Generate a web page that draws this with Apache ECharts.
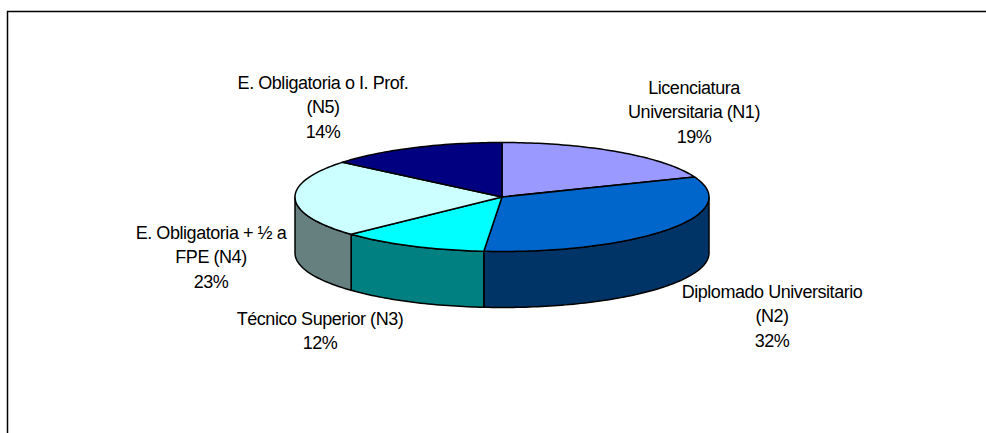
<!DOCTYPE html>
<html><head><meta charset="utf-8">
<style>html,body{margin:0;padding:0;background:#fff}#c{width:986px;height:433px}svg text{letter-spacing:-0.45px}</style>
<script src="https://cdn.jsdelivr.net/npm/echarts@6/dist/echarts.min.js"></script>
</head><body><div id="c"></div>
<script>
var categories = ['Licenciatura\nUniversitaria (N1)', 'Diplomado Universitario\n(N2)', 'Técnico Superior (N3)', 'E. Obligatoria + ½ a\nFPE (N4)', 'E. Obligatoria o I. Prof.\n(N5)'];
var values = [19, 32.4, 11.6, 23, 14];
var topColors = ['#9999FF', '#0066CC', '#00FFFF', '#CCFFFF', '#000080'];
var wallColors = ['#666699', '#003366', '#008080', '#668080', '#000040'];
var labelPos = [[694, 112], [772, 316], [320, 331], [211, 257], [323, 107]];

var CX = 502, CY = 197, RX = 207, RY = 54.5, DEPTH = 56;
var total = values.reduce(function (a, b) { return a + b; }, 0);
function pt(theta, dy) { return [CX + RX * Math.sin(theta), CY - RY * Math.cos(theta) + (dy || 0)]; }
function arc(a, b, dy) {
  var n = Math.max(2, Math.ceil(Math.abs(b - a) / 0.02)), out = [];
  for (var i = 0; i <= n; i++) out.push(pt(a + (b - a) * i / n, dy));
  return out;
}
var stroke = { stroke: '#000', lineWidth: 1.5, lineJoin: 'round' };
function styled(fill) { return Object.assign({ fill: fill }, stroke); }

var starts = [], acc = 0;
values.forEach(function (v) { starts.push(acc); acc += v; });

function renderItem(params, api) {
  var i = params.dataIndex;
  var a = api.value(1) / total * 2 * Math.PI, b = (api.value(1) + api.value(0)) / total * 2 * Math.PI;
  var kids = [];
  var wa = Math.max(a, Math.PI / 2), wb = Math.min(b, 3 * Math.PI / 2);
  if (wb > wa) {
    var f = arc(wa, wb, 0), g = arc(wb, wa, DEPTH);
    kids.push({ type: 'polygon', shape: { points: f.concat(g) }, style: styled(wallColors[i]) });
  }
  var pts = [[CX, CY]].concat(arc(a, b, 0));
  kids.push({ type: 'polygon', shape: { points: pts }, style: styled(topColors[i]) });
  return { type: 'group', children: kids };
}
function labelItem(params, api) {
  var i = params.dataIndex;
  return { type: 'text', x: labelPos[i][0], y: labelPos[i][1], style: {
    text: categories[i] + '\n' + Math.round(api.value(0) / total * 100) + '%',
    fill: '#000', font: '18px "Liberation Sans"', align: 'center', verticalAlign: 'middle', lineHeight: 24.5 } };
}
var seriesData = values.map(function (v, i) { return [v, starts[i]]; });
var chart = echarts.init(document.getElementById('c'), null, { renderer: 'svg' });
chart.setOption({
  animation: false,
  graphic: [{ type: 'polyline', shape: { points: [[7.5, 433], [7.5, 11.5], [986, 11.5]] }, style: { stroke: '#000', lineWidth: 1.5, fill: null } }],
  series: [
    { type: 'custom', coordinateSystem: 'none', renderItem: renderItem, data: seriesData, silent: true },
    { type: 'custom', coordinateSystem: 'none', renderItem: labelItem, data: seriesData, silent: true, z: 5 }
  ]
});
</script></body></html>
